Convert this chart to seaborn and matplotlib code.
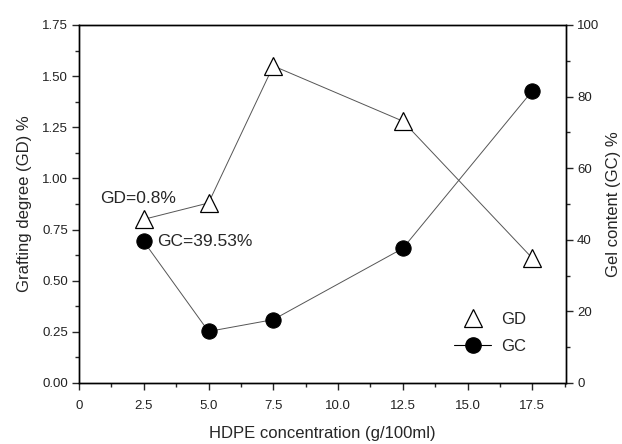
import matplotlib
matplotlib.use("Agg")
import matplotlib.pyplot as plt
from matplotlib.ticker import MultipleLocator
from matplotlib.lines import Line2D
import seaborn as sns
import pandas as pd

# HDPE concentration (g/100ml)
concentration = [2.5, 5.0, 7.5, 12.5, 17.5]
# Grafting degree (%)
grafting_degree = [0.80, 0.88, 1.55, 1.28, 0.61]
# Gel content (%)
gel_content = [39.53, 14.4, 17.7, 37.6, 81.6]

df = pd.DataFrame({"conc": concentration, "GD": grafting_degree, "GC": gel_content})

sns.set_style("ticks")
plt.rcParams["font.family"] = ["Liberation Sans", "DejaVu Sans"]
plt.rcParams["axes.linewidth"] = 1.0

fig = plt.figure(figsize=(6.22, 4.44), dpi=100)
ax = fig.add_axes([0.127, 0.1374, 0.783, 0.8063])
ax2 = ax.twinx()

sns.lineplot(data=df, x="conc", y="GD", ax=ax, color="#555555", linewidth=0.7,
             marker="^", markersize=13, markerfacecolor="white",
             markeredgecolor="black", markeredgewidth=0.9, label="GD", legend=False)
sns.lineplot(data=df, x="conc", y="GC", ax=ax2, color="#555555", linewidth=0.7,
             marker="o", markersize=11, markerfacecolor="black",
             markeredgecolor="black", label="GC", legend=False)

ax.set_xlim(0, 18.8)
ax.set_ylim(0, 1.75)
ax2.set_ylim(0, 100)

ax.xaxis.set_major_locator(MultipleLocator(2.5))
ax.xaxis.set_minor_locator(MultipleLocator(1.25))
ax.yaxis.set_major_locator(MultipleLocator(0.25))
ax.yaxis.set_minor_locator(MultipleLocator(0.125))
ax2.yaxis.set_major_locator(MultipleLocator(20))
ax2.yaxis.set_minor_locator(MultipleLocator(10))

ax.set_xticks([0, 2.5, 5.0, 7.5, 10.0, 12.5, 15.0, 17.5])
ax.set_xticklabels(["0", "2.5", "5.0", "7.5", "10.0", "12.5", "15.0", "17.5"])

for a in (ax, ax2):
    a.tick_params(which="major", length=5, width=1.0, labelsize=9.5,
                  labelcolor="#222222", pad=3)
    a.tick_params(which="minor", length=3, width=1.0)
    for s in a.spines.values():
        s.set_visible(True)
        s.set_linewidth(1.0)
        s.set_color("black")
ax.tick_params(axis="x", which="major", pad=7)

ax.set_xlabel("HDPE concentration (g/100ml)", fontsize=12, labelpad=10)
ax.set_ylabel("Grafting degree (GD) %", fontsize=12, labelpad=7)
ax2.set_ylabel("Gel content (GC) %", fontsize=12, labelpad=5)

ax.text(0.8, 0.90, "GD=0.8%", fontsize=12.5, ha="left", va="center")
ax2.text(3.0, 39.53, "GC=39.53%", fontsize=12.5, ha="left", va="center")

# legend: triangle alone, circle with line
handles = [
    Line2D([], [], linestyle="none", marker="^", markersize=13,
           markerfacecolor="white", markeredgecolor="black", markeredgewidth=0.9),
    Line2D([], [], color="black", linewidth=0.8, marker="o", markersize=11,
           markerfacecolor="black", markeredgecolor="black"),
]
ax.legend(handles, ["GD", "GC"], loc="lower left", bbox_to_anchor=(0.74, 0.04),
          frameon=False, fontsize=12, handlelength=2.2, handletextpad=0.6,
          labelspacing=0.7)

fig.savefig("out.png", dpi=100)
